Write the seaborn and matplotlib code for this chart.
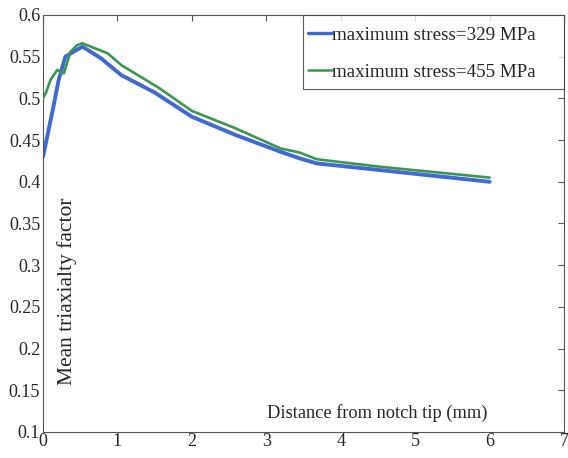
import numpy as np
import pandas as pd
import seaborn as sns
import matplotlib
matplotlib.use("Agg")
import matplotlib.pyplot as plt
from matplotlib.lines import Line2D

# Data
x_329 = [0.0, 0.14, 0.21, 0.30, 0.41, 0.53, 0.78, 1.05, 1.50, 2.00, 2.59, 3.19, 3.45, 3.68, 4.53, 6.00]
y_329 = [0.430, 0.490, 0.522, 0.550, 0.556, 0.562, 0.548, 0.528, 0.507, 0.478, 0.456, 0.436, 0.428, 0.422, 0.414, 0.400]
x_455 = [0.0, 0.04, 0.10, 0.19, 0.28, 0.37, 0.46, 0.53, 0.87, 1.05, 1.55, 2.00, 2.59, 3.19, 3.45, 3.68, 4.53, 6.00]
y_455 = [0.500, 0.507, 0.522, 0.534, 0.530, 0.556, 0.564, 0.566, 0.554, 0.540, 0.513, 0.485, 0.464, 0.440, 0.435, 0.427, 0.418, 0.405]
labels = ["maximum stress=329 MPa", "maximum stress=455 MPa"]
x_ticks = [0, 1, 2, 3, 4, 5, 6, 7]
y_ticks = [0.1, 0.15, 0.2, 0.25, 0.3, 0.35, 0.4, 0.45, 0.5, 0.55, 0.6]
y_tick_labels = ["0.1", "0.15", "0.2", "0.25", "0.3", "0.35", "0.4", "0.45", "0.5", "0.55", "0.6"]

df = pd.concat([
    pd.DataFrame({"x": x_329, "y": y_329, "series": labels[0]}),
    pd.DataFrame({"x": x_455, "y": y_455, "series": labels[1]}),
])

sns.set_style("white")
plt.rcParams["font.family"] = ["Liberation Serif", "DejaVu Serif"]
plt.rcParams["xtick.direction"] = "in"
plt.rcParams["ytick.direction"] = "in"

fig = plt.figure(figsize=(5.68, 4.58), dpi=100)
ax = fig.add_axes([0.0757, 0.0568, 0.9173, 0.9105])

palette = {labels[0]: "#4169d2", labels[1]: "#3c9650"}
sns.lineplot(data=df, x="x", y="y", hue="series", palette=palette, ax=ax,
             sort=False, estimator=None, legend=False)
lines = ax.get_lines()
lines[0].set_linewidth(2.8)
lines[1].set_linewidth(1.9)
lines[0].set_zorder(2)
lines[1].set_zorder(3)

ax.set_xlim(0, 7)
ax.set_ylim(0.1, 0.6)
ax.set_xticks(x_ticks)
ax.set_xticklabels([str(t) for t in x_ticks], fontsize=13)
ax.set_yticks(y_ticks)
ax.set_yticklabels(y_tick_labels, fontsize=13)
ax.tick_params(axis="both", which="both", direction="in", length=4, width=0.8,
               color="#555555", top=True, right=True, pad=2)
ax.tick_params(axis="x", pad=1)
for s in ax.spines.values():
    s.set_color("#555555")
    s.set_linewidth(0.8)

ax.set_xlabel("")
ax.set_ylabel("")
ax.text(0.852, 0.045, "Distance from notch tip (mm)", transform=ax.transAxes,
        ha="right", va="center", fontsize=13.2)
ax.text(0.027, 0.337, "Mean triaxialty factor", transform=ax.transAxes,
        ha="left", va="center", rotation=90, fontsize=15.5)

handles = [Line2D([], [], color=palette[labels[0]], lw=2.4),
           Line2D([], [], color=palette[labels[1]], lw=1.8)]
leg = ax.legend(handles, labels, loc="upper right", borderaxespad=0.0,
                bbox_to_anchor=(0.499, 0.0, 0.501, 1.0), mode="expand",
                fontsize=13.7, frameon=True, fancybox=False, handlelength=1.25,
                handletextpad=0.05, labelspacing=0.45, handleheight=1.9,
                borderpad=0.25)
leg.get_frame().set_edgecolor("#333333")
leg.get_frame().set_linewidth(0.8)
for h in leg.legend_handles:
    h.set_ydata(np.asarray(h.get_ydata(), dtype=float) - 2.3)

fig.savefig("out.png", dpi=100)
